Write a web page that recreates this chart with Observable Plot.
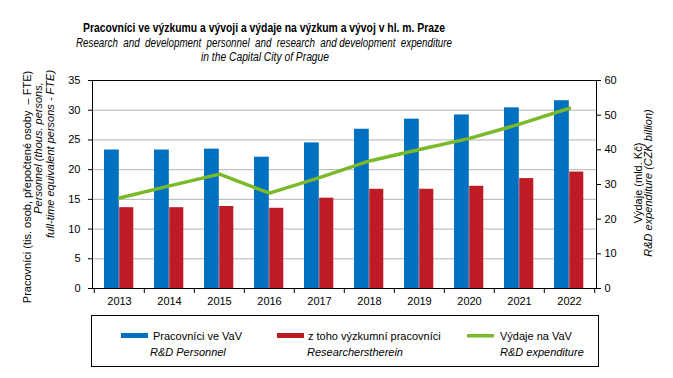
<!DOCTYPE html>
<html><head><meta charset="utf-8">
<script src="https://cdn.jsdelivr.net/npm/d3@7"></script>
<script src="https://cdn.jsdelivr.net/npm/@observablehq/plot@0.6"></script>
<style>
body{margin:0;background:#fff;font-family:"Liberation Sans",Arial,sans-serif;}
#wrap{position:relative;width:673px;height:378px;overflow:hidden;}
#wrap svg{position:absolute;left:0;top:0;}
</style></head><body><div id="wrap"></div>
<script>
const years = ["2013","2014","2015","2016","2017","2018","2019","2020","2021","2022"];
const personnel = [23.3, 23.3, 23.45, 22.1, 24.5, 26.8, 28.5, 29.2, 30.4, 31.6];
const researchers = [13.6, 13.6, 13.8, 13.5, 15.2, 16.7, 16.7, 17.2, 18.5, 19.6];
const expenditure = [26.1, 29.6, 33.0, 27.5, 32.0, 36.8, 40.1, 43.3, 47.4, 52.0];
const leftTicks = [0, 5, 10, 15, 20, 25, 30, 35];
const rightTicks = [0, 10, 20, 30, 40, 50, 60];
const leftMax = 35, rightMax = 60;
const title = "Pracovníci ve výzkumu a vývoji a výdaje na výzkum a vývoj v hl. m. Praze";
const subtitle1 = "Research  and  development  personnel  and  research  and development  expenditure";
const subtitle2 = "in the Capital City of Prague";
const yLabelLeft = ["Pracovníci (tis. osob, přepočtené osoby  – FTE)", "Personnel (thous. persons,", "full-time equivalent persons - FTE)"];
const yLabelRight = ["Výdaje (mld. Kč)", "R&D expenditure (CZK billion)"];
const seriesNames = ["Pracovníci ve VaV", "z toho výzkumní pracovníci", "Výdaje na VaV"];
const seriesNamesEn = ["R&D Personnel", "Researcherstherein", "R&D expenditure"];
const colors = ["#0070c0", "#be1c24", "#7ab929"];

const k = leftMax / rightMax;
const data = years.map((y, i) => ({year: y, p: personnel[i], r: researchers[i], e: expenditure[i]}));
const font = "Liberation Sans, Arial, sans-serif";

const chart = Plot.plot({
  width: 673, height: 378,
  marginLeft: 92, marginRight: 77, marginTop: 80, marginBottom: 90,
  style: {fontFamily: font, fontSize: "11px", color: "#000", background: "transparent"},
  x: {type: "band", domain: years, padding: 0, axis: null},
  y: {domain: [0, leftMax], axis: null},
  marks: [
    Plot.gridY(leftTicks, {stroke: "#b4b4b4", strokeOpacity: 1}),
    Plot.barY(data, {x: "year", y: "p", fill: colors[0], insetLeft: 10, insetRight: 25.2}),
    Plot.barY(data, {x: "year", y: "r", fill: colors[1], insetLeft: 25.2, insetRight: 10.7}),
    Plot.line(data, {x: "year", y: d => d.e * k, stroke: colors[2], strokeWidth: 3.5}),
    Plot.frame({stroke: "#000", strokeWidth: 1}),
    Plot.axisY(leftTicks, {anchor: "left", tickSize: 4, tickPadding: 8, fontSize: 11, label: null, stroke: "#000"}),
    Plot.axisY(rightTicks.map(v => v * k), {anchor: "right", tickSize: 4, tickPadding: 4, fontSize: 11, label: null, stroke: "#000", tickFormat: v => String(Math.round(v / k))}),
    Plot.axisX(years, {tickSize: 0, tickPadding: 9, fontSize: 11, label: null}),
    Plot.axisX(years, {tickSize: 5, tickFormat: () => "", dx: -25.2, label: null, stroke: "#000"}),
    Plot.axisX([years[years.length - 1]], {tickSize: 5, tickFormat: () => "", dx: 25.2, label: null, stroke: "#000"})
  ]
});
const wrap = document.getElementById("wrap");
wrap.appendChild(chart);

// overlay for titles, axis titles and legend
const ns = "http://www.w3.org/2000/svg";
const ov = document.createElementNS(ns, "svg");
ov.setAttribute("width", 673); ov.setAttribute("height", 378);
ov.style.fontFamily = font;
wrap.appendChild(ov);
function txt(s, x, y, opts = {}) {
  const t = document.createElementNS(ns, "text");
  t.textContent = s;
  t.setAttribute("x", x); t.setAttribute("y", y);
  t.setAttribute("font-size", opts.size || 11);
  if (opts.bold) t.setAttribute("font-weight", "bold");
  if (opts.italic) t.setAttribute("font-style", "italic");
  t.setAttribute("text-anchor", opts.anchor || "start");
  if (opts.rotate) t.setAttribute("transform", `rotate(-90 ${x} ${y})`);
  if (opts.len) { t.setAttribute("textLength", opts.len); t.setAttribute("lengthAdjust", "spacingAndGlyphs"); }
  t.setAttribute("fill", "#000");
  t.style.whiteSpace = "pre";
  ov.appendChild(t);
  return t;
}
txt(title, 264, 32, {size: 13, bold: true, anchor: "middle", len: 362});
txt(subtitle1, 264, 47, {size: 12, italic: true, anchor: "middle", len: 376});
txt(subtitle2, 265, 61, {size: 12, italic: true, anchor: "middle", len: 128});
txt(yLabelLeft[0], 31, 187, {rotate: true, anchor: "middle"});
txt(yLabelLeft[1], 42, 148, {rotate: true, anchor: "middle", italic: true});
txt(yLabelLeft[2], 54, 154, {rotate: true, anchor: "middle", italic: true});
txt(yLabelRight[0], 642, 183, {rotate: true, anchor: "middle"});
txt(yLabelRight[1], 652, 183, {rotate: true, anchor: "middle", italic: true});

const box = document.createElementNS(ns, "rect");
box.setAttribute("x", 91.5); box.setAttribute("y", 315.5);
box.setAttribute("width", 507); box.setAttribute("height", 51);
box.setAttribute("fill", "none"); box.setAttribute("stroke", "#000");
ov.appendChild(box);
const legX = [121, 277, 467];
const legTx = [153, 308, 500];
const legEn = [150, 307, 500];
seriesNames.forEach((s, i) => {
  const r = document.createElementNS(ns, "rect");
  r.setAttribute("x", legX[i]); r.setAttribute("y", i === 2 ? 334 : 333);
  r.setAttribute("width", 27); r.setAttribute("height", i === 2 ? 3.5 : 5);
  r.setAttribute("fill", colors[i]);
  ov.appendChild(r);
  txt(s, legTx[i], 340);
  txt(seriesNamesEn[i], legEn[i], 356, {italic: true});
});
</script></body></html>
